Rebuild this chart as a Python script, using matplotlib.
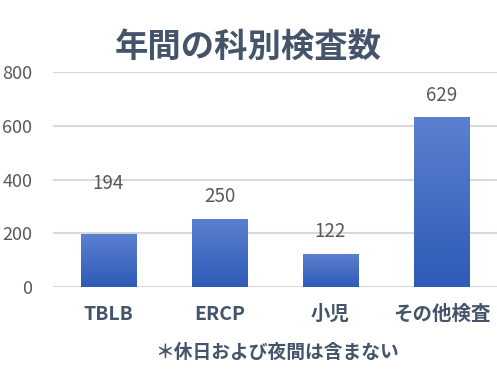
import numpy as np
import matplotlib.pyplot as plt
from matplotlib.colors import LinearSegmentedColormap

plt.rcParams['font.family'] = ['Noto Sans CJK JP', 'DejaVu Sans']

# Chart data
categories = ['TBLB', 'ERCP', '小児', 'その他検査']
counts = [194, 250, 122, 629]
yticks = [0, 200, 400, 600, 800]
title = '年間の科別検査数'
note = '＊休日および夜間は含まない'

# label offset above each bar (data units); first label was moved up in the original
label_offsets = [190, 85, 85, 85]

fig = plt.figure(figsize=(4.97, 3.71), dpi=100)
ax = fig.add_axes([0.1066, 0.2264, 0.8934, 0.5795])

x = np.arange(len(categories))
bars = ax.bar(x, counts, width=0.5, color='none', zorder=3)

# vertical gradient inside each bar (light top, darker bottom)
cmap = LinearSegmentedColormap.from_list('bar', ['#2e5bb7', '#5b80cf'])
grad = np.linspace(0, 1, 256).reshape(-1, 1)
for b, off in zip(bars, label_offsets):
    x0, w, h = b.get_x(), b.get_width(), b.get_height()
    ax.imshow(grad, cmap=cmap, aspect='auto', origin='lower',
              extent=[x0, x0 + w, 0, h], zorder=3)
    ax.text(x0 + w / 2, h + off, str(int(h)), ha='center', va='center',
            fontsize=13.5, color='#595959', zorder=4)

ax.set_xlim(-0.5, len(categories) - 0.5)
ax.set_ylim(0, 800)
ax.set_yticks(yticks)
ax.set_yticklabels([str(t) for t in yticks], fontsize=13, color='#595959')
ax.set_xticks(x)
ax.set_xticklabels(categories, fontsize=14, fontweight='bold', color='#44546a')
ax.tick_params(axis='y', length=0, pad=15)
ax.tick_params(axis='x', length=0, pad=13)
ax.grid(axis='y', color='#d9d9d9', linewidth=1.5, zorder=0)
for s in ax.spines.values():
    s.set_visible(False)

fig.text(0.5, 0.873, title, ha='center', va='center', fontsize=24,
         fontweight='bold', color='#44546a')
fig.text(0.557, 0.051, note, ha='center', va='center', fontsize=13.5,
         fontweight='bold', color='#44546a')

fig.savefig('out.png', dpi=100)
